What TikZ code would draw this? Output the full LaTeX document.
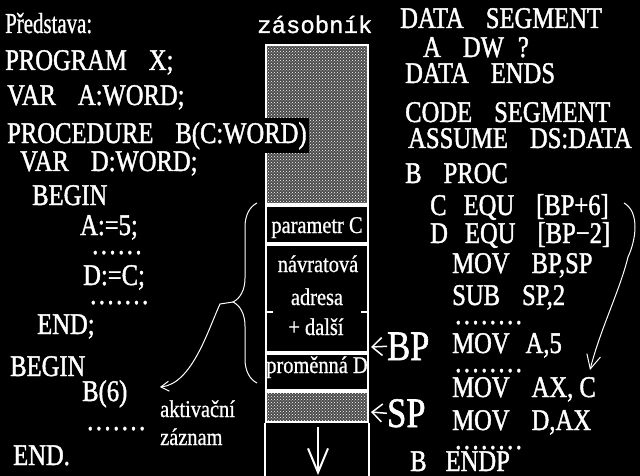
\documentclass[tikz,border=0pt]{standalone}
\usepackage{fontspec}
\setmainfont{Liberation Serif}
\newfontfamily\codefont[FakeStretch=0.82,FakeBold=1.4]{Liberation Serif}
\newfontfamily\notefont[FakeStretch=0.85,FakeBold=0.8]{Liberation Serif}
\newfontfamily\headfont[FakeStretch=0.72,FakeBold=0.8]{Liberation Serif}
\newfontfamily\typefont[FakeBold=1.2]{Liberation Mono}
\usetikzlibrary{arrows.meta,patterns,decorations.pathreplacing}
\newcommand{\gap}{\hspace{22pt}}
\newcommand{\dotrow}[1]{\foreach \i in {1,...,#1}{.\kern2.5pt}}

\begin{document}
\begin{tikzpicture}[x=1pt,y=-1pt]
  \tikzset{code/.style={anchor=base west,inner sep=0pt,text=white,font=\codefont\fontsize{30}{30}\selectfont},
    big/.style={code,font=\codefont\fontsize{42}{42}\selectfont},
    note/.style={anchor=base,inner sep=0pt,text=white,font=\notefont\fontsize{24}{24}\selectfont},
    cell/.style={draw=white,line width=2pt,minimum width=102pt,inner sep=0pt,anchor=north west},
    hatch/.style={preaction={fill=white!30!black},pattern=crosshatch dots,pattern color=white},
    wire/.style={draw=white,line width=1pt}}
  \useasboundingbox (0,0) rectangle (640,476);
  \fill[black] (0,0) rectangle (640,476);
  % stack
  \node[anchor=base west,inner sep=0pt,text=white,font=\typefont\fontsize{24}{24}\selectfont] (stackTitle) at (257,33) {zásobník};
  \node[cell,hatch,minimum height=159pt] (hatchTop) at (265,44) {};
  \node[cell,minimum height=37pt] (cellC) at (hatchTop.south west) {};
  \node[cell,minimum height=107pt] (cellRet) at (cellC.south west) {};
  \node[cell,minimum height=36pt] (cellD) at (cellRet.south west) {};
  \node[cell,hatch,minimum height=30pt] (hatchBot) at (cellD.south west) {};
  \draw[white,line width=2pt] (hatchBot.south west) -- ++(0,66);
  \draw[white,line width=2pt] (hatchBot.south east) -- ++(0,66);
  \draw[white,line width=1.5pt] (cellRet.west |- 0,312) -- ++(8,0);
  \draw[white,line width=1.5pt] (cellRet.east |- 0,312) -- ++(-8,0);
  \node[note] (parC) at (317,233) {parametr C};
  \node[note] (retA) at (318,272) {návratová};
  \node[note] (retB) at (317,305) {adresa};
  \node[note] (retC) at (316,335) {+ další};
  \node[note] (locD) at (317,373) {proměnná D};
  \coordinate (pushTop) at (318,427);
  \coordinate (pushEnd) at (318,475);
  \draw[white,line width=2pt,-{Straight Barb[length=24pt,width=20pt]}] (pushTop) -- (pushEnd);
  % pascal
  \node[code,font=\headfont\fontsize{29}{29}\selectfont] (intro) at (5,33) {Představa:};
  \node[code] (prog) at (5,70) {PROGRAM\gap X;};
  \node[code] (varA) at (7,105) {VAR\gap A:WORD;};
  \node[code,fill=black,inner ysep=4pt,inner xsep=2pt] (procB) at (5,143) {PROCEDURE\gap B(C:WORD)};
  \node[code] (varD) at (20,171) {VAR\gap D:WORD;};
  \node[code] (beginB) at (32,205) {BEGIN};
  \node[code] (setA) at (80,235) {A:=5;};
  \node[code] (dotsA) at (92,254) {\dotrow{6}};
  \node[code] (setD) at (83,285) {D:=C;};
  \node[code] (dotsD) at (90,304) {\dotrow{7}};
  \node[code] (endB) at (37,334) {END;};
  \node[code] (beginMain) at (10,376) {BEGIN};
  \node[code] (callB) at (82,401) {B(6)};
  \node[code] (dotsMain) at (87,430) {\dotrow{7}};
  \node[code] (endMain) at (13,465) {END.};
  % assembler
  \node[code] (dataSeg) at (400,28) {DATA\gap SEGMENT};
  \node[code] (dwA) at (423,57) {A\gap DW\hspace{14pt}?};
  \node[code] (dataEnds) at (405,83) {DATA\gap ENDS};
  \node[code] (codeSeg) at (405,122) {CODE\gap SEGMENT};
  \node[code] (assume) at (408,148) {ASSUME\gap DS:DATA};
  \node[code] (bProc) at (405,183) {B\gap PROC};
  \node[code] (equC) at (430,215) {C\hspace{17pt}EQU\gap [BP+6]};
  \node[code] (equD) at (430,243) {D\hspace{17pt}EQU\gap [BP−2]};
  \node[code] (movBP) at (452,273) {MOV\gap BP,SP};
  \node[code] (subSP) at (452,305) {SUB\gap SP,2};
  \node[code] (dotsR1) at (455,324) {\dotrow{8}};
  \node[code] (movA) at (452,353) {MOV\hspace{16pt}A,5};
  \node[code] (dotsR2) at (455,372) {\dotrow{8}};
  \node[code] (movAX) at (452,397) {MOV\gap AX, C};
  \node[code] (movD) at (452,430) {MOV\gap D,AX};
  \node[code] (dotsR3) at (455,449) {\dotrow{8}};
  \node[code] (bEndp) at (410,471) {B\hspace{19pt}ENDP};
  % pointers
  \node[big] (bpLbl) at (387,360) {BP};
  \node[big] (spLbl) at (387,427) {SP};
  \coordinate (bpPos) at (371,347);
  \coordinate (spPos) at (371,412);
  \draw[white,line width=1.5pt,-{Straight Barb[length=10pt,width=18pt]}] (bpLbl.west) -- (bpPos);
  \draw[white,line width=1.5pt,-{Straight Barb[length=10pt,width=18pt]}] (spLbl.west) -- (spPos);
  % activation record
  \draw[wire,decorate,decoration={brace,amplitude=24pt,aspect=0.45}] (257,383) -- (257,203);
  \coordinate (braceTip) at (233,302);
  \node[note,anchor=base west] (actA) at (160,417) {aktivační};
  \node[note,anchor=base west] (actB) at (160,445) {záznam};
  \coordinate (recEnd) at (160,387);
  \draw[wire,-{Straight Barb[length=8pt,width=10pt]}] (braceTip) -- (220,304) .. controls (208,330) and (192,384) .. (recEnd);
  \coordinate (equRef) at (624,203);
  \coordinate (useC) at (590,370);
  \draw[wire,-{Straight Barb[length=14pt,width=14pt]}] (equRef) .. controls (640,212) and (636,240) .. (628,257) .. controls (620,290) and (600,330) .. (useC);
\end{tikzpicture}
\end{document}
